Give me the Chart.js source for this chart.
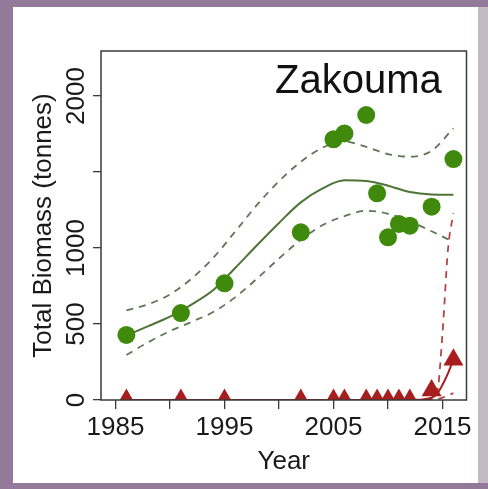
<!DOCTYPE html>
<html>
<head>
<meta charset="utf-8">
<script src="https://cdn.jsdelivr.net/npm/chart.js@4/dist/chart.umd.min.js"></script>
<style>
  html, body { margin: 0; padding: 0; }
  body { width: 488px; height: 489px; background: #93799a; position: relative; overflow: hidden; }
  #rightBand { position: absolute; left: 478px; top: 7px; width: 10px; height: 476px; background: #c4bac6; }
  #panel { position: absolute; left: 13px; top: 7px; width: 465px; height: 476px; background: #fff; }
</style>
</head>
<body>
<div id="rightBand"></div>
<div id="panel"><canvas id="chart"></canvas></div>
<script>
// survey years and observed biomass (tonnes)
const surveyYears = [1986, 1991, 1995, 2002, 2005, 2006, 2008, 2009, 2010, 2011, 2012, 2014, 2016];
const greenObserved = [428, 572, 768, 1103, 1715, 1754, 1875, 1360, 1070, 1158, 1147, 1272, 1585];
const redObserved = [0, 0, 0, 0, 0, 0, 0, 0, 0, 0, 0, 62, 265];

// fitted trend + confidence band, green series
const greenFitYears = [1986, 1988, 1990, 1992, 1994, 1996, 1998, 2000, 2002, 2004, 2006, 2008, 2010, 2012, 2014, 2016];
const greenFit = [425, 486, 548, 629, 725, 870, 1020, 1165, 1300, 1392, 1445, 1440, 1410, 1368, 1352, 1350];
const greenUpper = [590, 630, 695, 800, 938, 1110, 1285, 1440, 1567, 1660, 1700, 1665, 1618, 1601, 1640, 1787];
const greenLower = [296, 380, 453, 515, 580, 677, 800, 931, 1054, 1151, 1210, 1245, 1225, 1175, 1110, 1040];

// fitted trend + confidence band, red series
const redFitYears = [1986, 2000, 2012, 2013, 2014, 2014.5, 2015, 2015.5, 2016];
const redFit = [0, 0, 0, 2, 15, 40, 100, 175, 268];
const redUpper = [0, 0, 0, 3, 8, 44, 440, 990, 1230];
const redLower = [0, 0, 0, 0, 0, 5, 15, 30, 45];

const xTicks = [1985, 1990, 1995, 2000, 2005, 2010, 2015];
const xLabels = [1985, 1995, 2005, 2015];
const yTicks = [0, 500, 1000, 1500, 2000];
const yLabels = [0, 500, 1000, 2000];

const GREEN = "#3f8a0c";
const GREEN_LINE = "#4d7436";
const GREEN_DASH = "#5e7656";
const RED = "#a61e1e";
const RED_DASH = "#b54545";

Chart.defaults.font.family = "'Liberation Sans', Arial, sans-serif";
Chart.defaults.color = "#1a1a1a";

function pairs(xs, ys) {
  return xs.map((x, i) => ({ x: x, y: ys[i] }));
}

function fitLine(xs, ys, color, dashed) {
  return {
    type: "line",
    data: pairs(xs, ys),
    borderColor: color,
    borderWidth: dashed ? 1.8 : 2,
    borderDash: dashed ? [7, 6] : [],
    pointRadius: 0,
    cubicInterpolationMode: "monotone",
    fill: false,
    clip: 0,
  };
}

// outer box of the plot + panel label
const boxPlugin = {
  id: "box",
  afterDraw(chart) {
    const { ctx, chartArea: a } = chart;
    ctx.save();
    ctx.strokeStyle = "#3a3a3a";
    ctx.lineWidth = 1.5;
    ctx.strokeRect(a.left, a.top, a.right - a.left, a.bottom - a.top);
    ctx.fillStyle = "#111";
    ctx.font = "40px 'Liberation Sans', Arial, sans-serif";
    ctx.textAlign = "left";
    ctx.textBaseline = "alphabetic";
    ctx.fillText("Zakouma", a.left + 174, a.top + 42);
    ctx.restore();
  },
};

new Chart(document.getElementById("chart"), {
  type: "scatter",
  data: {
    datasets: [
      {
        data: pairs(surveyYears, greenObserved),
        backgroundColor: GREEN,
        borderWidth: 0,
        pointRadius: 9,
        pointStyle: "circle",
      },
      {
        data: pairs(surveyYears, redObserved),
        backgroundColor: RED,
        borderWidth: 0,
        pointRadius: 11.5,
        pointStyle: "triangle",
        clip: 0,
      },
      fitLine(greenFitYears, greenFit, GREEN_LINE, false),
      fitLine(greenFitYears, greenUpper, GREEN_DASH, true),
      fitLine(greenFitYears, greenLower, GREEN_DASH, true),
      fitLine(redFitYears, redFit, RED, false),
      fitLine(redFitYears, redUpper, RED_DASH, true),
      fitLine(redFitYears, redLower, RED_DASH, true),
    ],
  },
  options: {
    responsive: true,
    maintainAspectRatio: false,
    animation: false,
    events: [],
    layout: { padding: { top: 44, right: 5, left: 0, bottom: 0 } },
    plugins: { legend: { display: false }, tooltip: { enabled: false } },
    scales: {
      x: {
        type: "linear",
        min: 1983.67,
        max: 2017.2,
        afterBuildTicks: s => { s.ticks = xTicks.map(v => ({ value: v })); },
        afterFit: s => { s.height = 83; },
        ticks: {
          autoSkip: false,
          maxRotation: 0,
          padding: 3,
          font: { size: 26 },
          callback: v => (xLabels.includes(v) ? String(v) : ""),
        },
        grid: { drawOnChartArea: false, drawTicks: true, tickLength: 9, color: "#3a3a3a", lineWidth: 1.3 },
        border: { display: false },
        title: { display: true, text: "Year", font: { size: 26, lineHeight: 1.2 }, padding: { top: 0, bottom: 6 } },
      },
      y: {
        type: "linear",
        min: 0,
        max: 2296,
        afterBuildTicks: s => { s.ticks = yTicks.map(v => ({ value: v })); },
        afterFit: s => { s.width = 88; },
        ticks: {
          minRotation: 90,
          maxRotation: 90,
          crossAlign: "center",
          padding: -13,
          font: { size: 26 },
          callback: v => (yLabels.includes(v) ? String(v) : ""),
        },
        grid: { drawOnChartArea: false, drawTicks: true, tickLength: 8, color: "#3a3a3a", lineWidth: 1.3 },
        border: { display: false },
        title: { display: true, text: "Total Biomass (tonnes)", font: { size: 26, lineHeight: 1.2 }, padding: { top: 15, bottom: 0 } },
      },
    },
  },
  plugins: [boxPlugin],
});
</script>
</body>
</html>
